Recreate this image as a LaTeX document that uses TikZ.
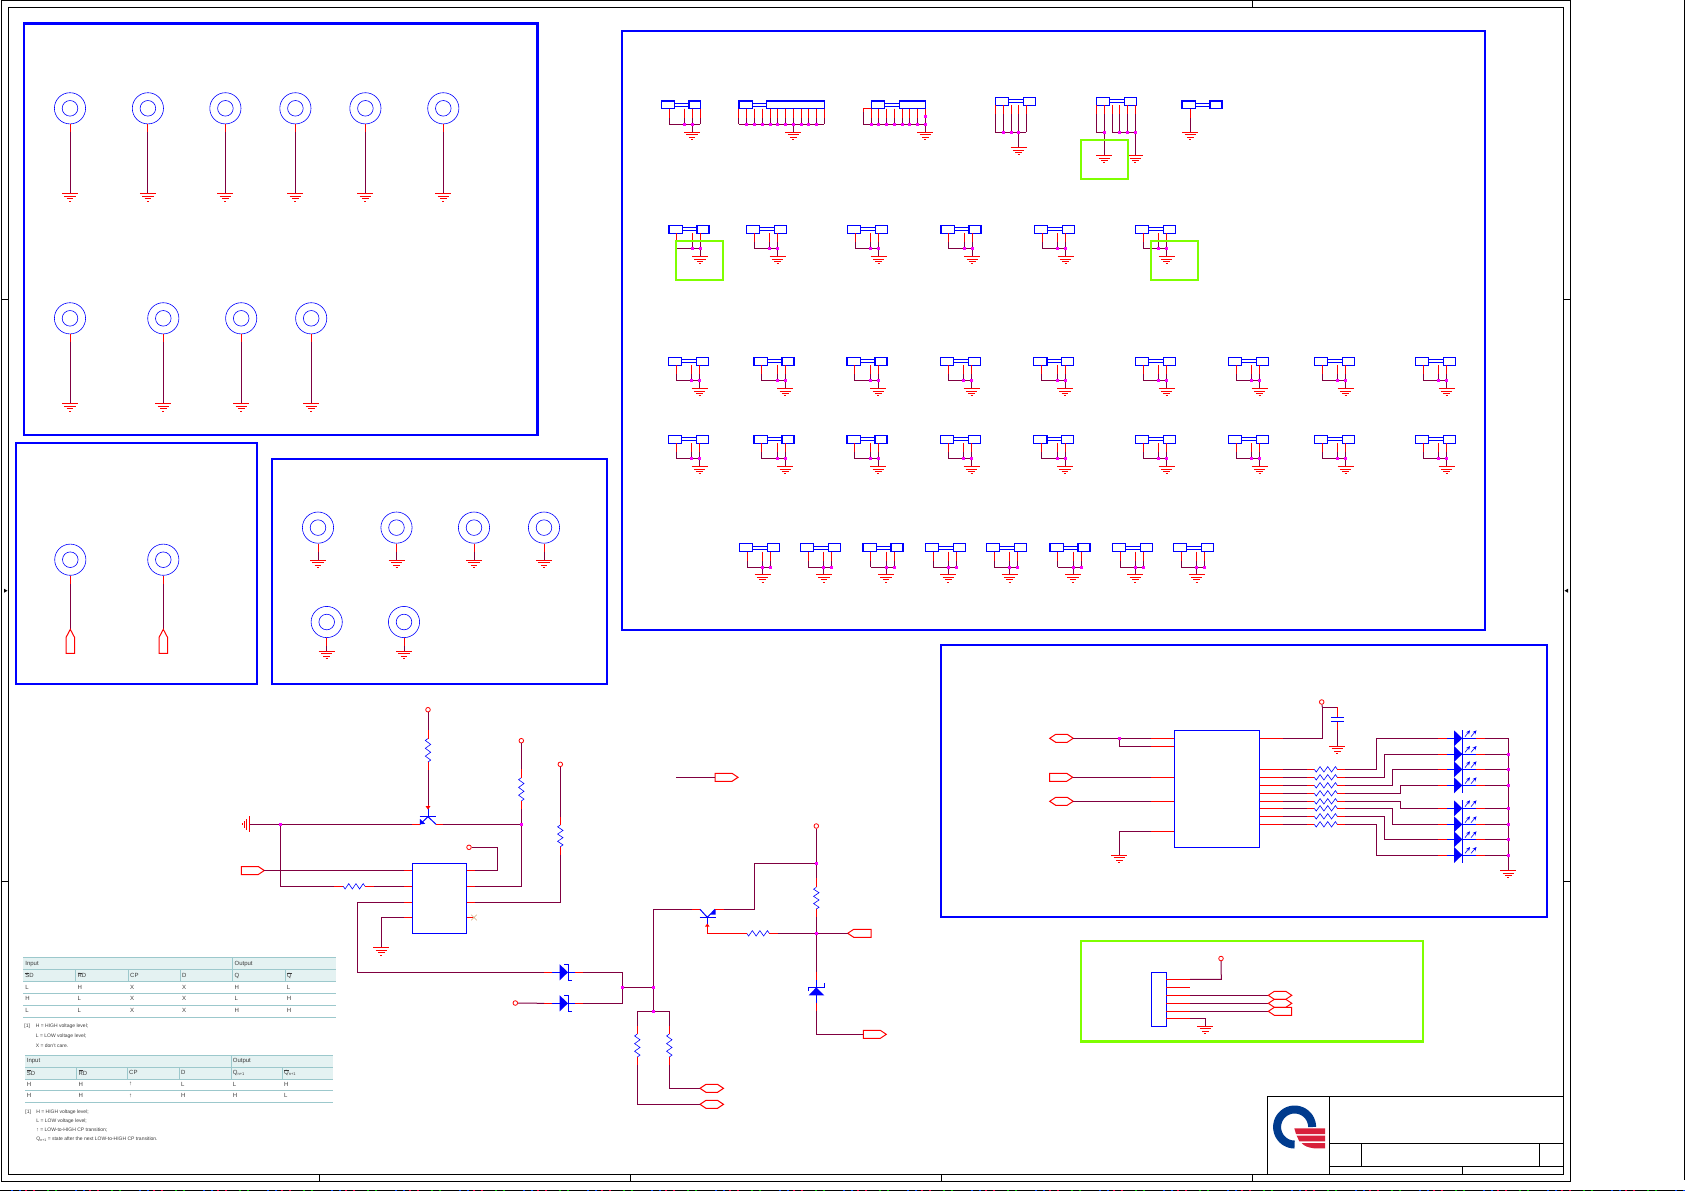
\documentclass[tikz,border=0pt]{standalone}
\usepackage{fontspec}
\setmainfont{Liberation Sans}
\usetikzlibrary{arrows.meta,calc}
\definecolor{wirec}{HTML}{800040}
\definecolor{dotc}{HTML}{FF00FF}
\definecolor{lime}{HTML}{7FFF00}
\definecolor{band}{HTML}{E4F2F2}
\definecolor{tline}{HTML}{9CC8CC}
\definecolor{ttext}{HTML}{3A3A3A}
\definecolor{logob}{HTML}{003B8E}
\definecolor{logor}{HTML}{D8203A}
\tikzset{
  wire/.style={draw=wirec,line width=.5pt},
  pin/.style={draw=red,line width=.5pt},
  bl/.style={draw=blue,line width=.5pt},
  blthin/.style={draw=blue,line width=.3pt},
  frame/.style={draw=black,line width=.5pt},
  bigbox/.style={draw=blue,line width=1.2pt},
  limebox/.style={draw=lime,line width=1.1pt},
  hole/.style={circle,draw=blue,line width=.3pt,inner sep=0pt},
  vccc/.style={circle,draw=red,line width=.4pt,fill=white,inner sep=0pt,minimum size=2.3pt},
  rectn/.style={rectangle,draw=blue,line width=.6pt,inner sep=0pt},
  ttx/.style={anchor=west,inner sep=0pt,text=ttext,font=\fontsize{3}{4}\selectfont},
  ntx/.style={anchor=west,inner sep=0pt,text=ttext,font=\fontsize{2.5}{3}\selectfont},
}
\newcounter{tcnt}
\newcommand{\ovl}[1]{\leavevmode\vbox{\hrule height .12pt \kern .2pt \hbox{#1}}}
\newcommand{\qsub}{Q\raisebox{-.5pt}{\fontsize{2}{2}\selectfont n+1}}
\newcommand{\tx}[3]{\stepcounter{tcnt}\node[ttx] (t\arabic{tcnt}) at (#1,#2) {#3};}
\newcommand{\nx}[3]{\stepcounter{tcnt}\node[ntx] (t\arabic{tcnt}) at (#1,#2) {#3};}
% ground on a named coordinate
\newcommand{\gnd}[1]{%
  \draw[pin] ([shift={(-8,0)}]#1) -- ([shift={(8,0)}]#1);
  \draw[pin] ([shift={(-5.7,2.7)}]#1) -- ([shift={(5.7,2.7)}]#1);
  \draw[pin] ([shift={(-3.3,5)}]#1) -- ([shift={(3.3,5)}]#1);
  \draw[pin] ([shift={(-1,7.3)}]#1) -- ([shift={(1,7.3)}]#1);}
\newcommand{\dotm}[2]{\fill[dotc] ({#1-1.5},{#2-1.5}) rectangle ({#1+1.5},{#2+1.5});}
% rectangle node: name x1 x2 y1 y2
\newcommand{\hbx}[5]{\node[rectn,minimum width={((#3)-(#2))*0.5},minimum height={((#5)-(#4))*0.5}] (#1) at ({((#2)+(#3))/2},{((#4)+(#5))/2}) {};}
% mounting hole: name x y ybottom
\newcommand{\mhole}[4]{%
  \node[hole,minimum size=15.6pt] (#1) at (#2,#3) {};
  \node[hole,minimum size=7.8pt] (#1i) at (#2,#3) {};
  \coordinate (#1g) at (#2,#4);
  \draw[wire] (#1.south) -- (#1g);
  \draw[pin] (#1.south) -- ++(0,8);}
\newcommand{\pinv}[3]{\draw[wire] ({#1},{#2}) -- ({#1},{#3}); \draw[pin] ({#1},{#2}) -- ({#1},{#2+9});}
% standard three pin unit: name x y ground-offset
\newcommand{\hdr}[4]{%
  \hbx{#1a}{#2}{#2+13.2}{#3}{#3+8}
  \hbx{#1b}{#2+28}{#2+40}{#3}{#3+8}
  \draw[bl] ([yshift=.7pt]#1a.east) -- ([yshift=.7pt]#1b.west);
  \draw[bl] ([yshift=-.7pt]#1a.east) -- ([yshift=-.7pt]#1b.west);
  \pinv{#2+7.8}{#3+8}{#3+23.6}
  \pinv{#2+23.2}{#3+8}{#3+23.6}
  \pinv{#2+31.2}{#3+8}{#3+23.6}
  \coordinate (#1g) at ({#2+#4},{#3+31});
  \draw[wire] ({#2+7.8},{#3+23.6}) -- ({#2+31.2},{#3+23.6});
  \draw[wire] ({#2+#4},{#3+23.6}) -- (#1g);
  \dotm{#2+23.2}{#3+23.6}\dotm{#2+31.2}{#3+23.6}
  \gnd{#1g}}
% zigzag resistors
\newcommand{\rv}[4]{%
  \coordinate (#1a) at (#2,#3); \coordinate (#1b) at (#2,{#3+#4});
  \draw[blthin] (#1a)
   -- ({#2-2.7},{#3+#4/12}) -- ({#2+2.7},{#3+#4*3/12}) -- ({#2-2.7},{#3+#4*5/12})
   -- ({#2+2.7},{#3+#4*7/12}) -- ({#2-2.7},{#3+#4*9/12}) -- ({#2+2.7},{#3+#4*11/12}) -- (#1b);}
\newcommand{\rh}[4]{%
  \coordinate (#1a) at (#2,#3); \coordinate (#1b) at ({#2+#4},#3);
  \draw[blthin] (#1a)
   -- ({#2+#4/12},{#3+2.7}) -- ({#2+#4*3/12},{#3-2.7}) -- ({#2+#4*5/12},{#3+2.7})
   -- ({#2+#4*7/12},{#3-2.7}) -- ({#2+#4*9/12},{#3+2.7}) -- ({#2+#4*11/12},{#3-2.7}) -- (#1b);}
% ports: name, left x, centre y; coordinates namew, namee
\newcommand{\pright}[3]{\coordinate (#1w) at (#2,#3); \coordinate (#1e) at ({#2+23},#3);
  \draw[pin,fill=white] (#1w) ++(0,-4) -- ++(17,0) -- (#1e) -- ({#2+17},{#3+4}) -- (#2,{#3+4}) -- cycle;}
\newcommand{\pleft}[3]{\coordinate (#1w) at (#2,#3); \coordinate (#1e) at ({#2+23.5},#3);
  \draw[pin,fill=white] (#1e) ++(0,-4) -- ++(-17.5,0) -- (#1w) -- ({#2+6},{#3+4}) -- ({#2+23.5},{#3+4}) -- cycle;}
\newcommand{\phex}[3]{\coordinate (#1w) at (#2,#3); \coordinate (#1e) at ({#2+23.5},#3);
  \draw[pin,fill=white] (#1w) -- ({#2+6},{#3-4}) -- ({#2+17.5},{#3-4}) -- (#1e) -- ({#2+17.5},{#3+4}) -- ({#2+6},{#3+4}) -- cycle;}
% zener lying horizontally: name, base x, y
\newcommand{\zen}[3]{%
  \coordinate (#1w) at ({#2-7.4},#3); \coordinate (#1e) at ({#2+15.6},#3);
  \fill[blue] (#2,{#3-8}) -- (#2,{#3+8}) -- ({#2+8.3},#3) -- cycle;
  \draw[bl] (#1w) -- (#1e);
  \draw[bl] ({#2+4.3},{#3-8}) -- ({#2+8.3},{#3-8}) -- ({#2+8.3},{#3+8}) -- ({#2+12},{#3+8});}
% LED: name, y
\newcommand{\led}[2]{%
  \coordinate (#1w) at (1446.7,#2); \coordinate (#1e) at (1485.3,#2);
  \fill[blue] (1454,{#2-8}) -- (1454,{#2+8}) -- (1462.3,#2) -- cycle;
  \draw[bl] (1446.7,#2) -- (1476,#2);
  \draw[bl] (1462.3,{#2-8}) -- (1462.3,{#2+8});
  \draw[pin] (1438.3,#2) -- (1446.7,#2);
  \draw[pin] (1476,#2) -- (1485.3,#2);
  \draw[wire] (1485.3,#2) -- (1508.3,#2);
  \draw[blthin,-{Stealth[length=2pt,width=1.8pt]}] (1465,{#2-1.7}) -- (1470,{#2-8});
  \draw[blthin,-{Stealth[length=2pt,width=1.8pt]}] (1471,{#2-1.7}) -- (1476.5,{#2-8});}
\begin{document}
\begin{tikzpicture}[x=0.5pt,y=-0.5pt]
\useasboundingbox (0,0) rectangle (1685,1191);
% ---------- sheet frame
\draw[frame] (1,.7) rectangle (1570.7,1181.3);
\draw[frame] (8.3,7.7) rectangle (1563.7,1174.3);
\draw[frame] (1684,0) -- (1684,1180);
\draw[frame] (1252.3,.7) -- (1252.3,7.7);
\foreach \yy in {299.3,881} {\draw[frame] (1,\yy) -- (8.3,\yy); \draw[frame] (1563.7,\yy) -- (1570.7,\yy);}
\foreach \xx in {319.3,630,941,1252.3} {\draw[frame] (\xx,1174.3) -- (\xx,1181.3);}
\fill (7.5,590.7) -- (4,588.7) -- (4,592.7) -- cycle;
\fill (1564.5,590.7) -- (1568,588.7) -- (1568,592.7) -- cycle;
\draw[black,line width=.5pt] (0,1190.3) -- (1685,1190.3);
\draw[blue!70!cyan,line width=.5pt,dash pattern=on .8pt off 3.2pt on .8pt off 27.2pt] (11,1190.3) -- (1685,1190.3);
\draw[red!70!magenta,line width=.5pt,dash pattern=on .8pt off 3.2pt on .8pt off 27.2pt] (25,1190.3) -- (1685,1190.3);
\draw[green!75!black,line width=.5pt,dash pattern=on .8pt off 3.2pt on .8pt off 27.2pt] (47,1190.3) -- (1685,1190.3);
% ---------- big frames
\draw[bigbox] (23.7,23.3) rectangle (537.3,434.7);
\draw[bigbox] (16,443) rectangle (257,684);
\draw[bigbox] (272,459) rectangle (607,684);
\draw[bigbox] (622,31) rectangle (1485,630);
\draw[bigbox] (941,645) rectangle (1547,917);
\draw[limebox] (1081,941) rectangle (1423,1041.5);
% ---------- mounting holes with ground
\foreach \n/\hx in {a/70,b/147.9,c/225.4,d/295.4,e/365.4,f/443.3} {\mhole{h\n}{\hx}{108.3}{193.7}\gnd{h\n g}}
\foreach \n/\hx in {g/70,h/163.3,i/241.2,j/311.2} {\mhole{h\n}{\hx}{318.3}{403.7}\gnd{h\n g}}
\foreach \n/\hx in {a/318,b/396.5,c/474,d/544} {\mhole{k\n}{\hx}{527.6}{560}\gnd{k\n g}}
\foreach \n/\hx in {e/326.7,f/404} {\mhole{k\n}{\hx}{622}{651}\gnd{k\n g}}
% holes with up-pointing ports
\foreach \n/\hx in {a/70.3,b/163.3} {
  \mhole{u\n}{\hx}{559.7}{629.3}
  \draw[pin,fill=white] (u\n g) -- ++(4.2,8) -- ++(0,16) -- ++(-8.4,0) -- ++(0,-16) -- cycle;}
% ---------- headers row 1
\hbx{p1a}{661.4}{674.6}{101}{108.7}\hbx{p1b}{688.9}{700.7}{101}{108.7}
\hbx{p2a}{738.9}{752.5}{101}{108.7}\hbx{p2b}{766.4}{824.6}{101}{108.7}
\hbx{p3a}{871.4}{884.6}{101}{108.7}\hbx{p3b}{899.3}{925.7}{101}{108.7}
\hbx{p4a}{995.4}{1008.6}{97.3}{105.3}\hbx{p4b}{1023.2}{1035.4}{97.3}{105.3}
\hbx{p5a}{1096.4}{1109.6}{97.3}{105.3}\hbx{p5b}{1124.3}{1136.4}{97.3}{105.3}
\hbx{p6a}{1182}{1195.7}{101}{108.7}\hbx{p6b}{1210}{1222}{101}{108.7}
\foreach \n in {1,2,3,4,5,6} {
  \draw[bl] ([yshift=.7pt]p\n a.east) -- ([yshift=.7pt]p\n b.west);
  \draw[bl] ([yshift=-.7pt]p\n a.east) -- ([yshift=-.7pt]p\n b.west);}
% unit 1
\foreach \xx in {669.3,684.3,692.1,700.4} {\pinv{\xx}{108.7}{124.3}}
\draw[wire] (669.3,124.3) -- (700.4,124.3);
\coordinate (p1g) at (692.1,132); \draw[wire] (692.1,124.3) -- (p1g); \gnd{p1g}
\dotm{684.3}{124.3}\dotm{692.1}{124.3}
% unit 2
\foreach \xx in {738.9,746.4,754.3,762.1,770.4,777.5,785.4,793.2,801.1,808.6,816.4,824.3} {\pinv{\xx}{108.7}{124.3}}
\draw[wire] (738.9,124.3) -- (824.3,124.3);
\coordinate (p2g) at (793.2,132); \draw[wire] (793.2,124.3) -- (p2g); \gnd{p2g}
\foreach \xx in {746.4,754.3,762.1,770.4,777.5,785.4,793.2,801.1,808.6,816.4} {\dotm{\xx}{124.3}}
% unit 3
\foreach \xx in {871.4,878.9,886.8,894.3,902.5,909.6,917.5,925.4} {\pinv{\xx}{108.7}{124.3}}
\draw[pin] (871.4,108.7) -- (863.2,108.7) -- (863.2,112);
\draw[wire] (863.2,112) -- (863.2,124.3) -- (925.4,124.3);
\coordinate (p3g) at (925.4,132); \draw[wire] (925.4,124.3) -- (p3g); \gnd{p3g}
\foreach \xx in {871.4,878.9,886.8,894.3,902.5,909.6,917.5,925.4} {\dotm{\xx}{124.3}}
\dotm{925.4}{116.3}
% unit 4
\foreach \xx in {995.4,1003.2,1011,1018.6,1026.4} {\pinv{\xx}{105.3}{132.3}}
\draw[wire] (995.4,132.3) -- (1026.4,132.3);
\coordinate (p4g) at (1018.6,147.3); \draw[wire] (1018.6,132.3) -- (p4g); \gnd{p4g}
\foreach \xx in {1003.2,1011,1018.6} {\dotm{\xx}{132.3}}
% unit 5
\foreach \xx in {1096.4,1104.3,1112.1,1119.6,1127.5,1135.4} {\pinv{\xx}{105.3}{132.3}}
\draw[wire] (1096.4,132.3) -- (1104.3,132.3);
\draw[wire] (1112.1,132.3) -- (1135.4,132.3);
\coordinate (p5g) at (1104.3,155.3); \draw[wire] (1104.3,132.3) -- (p5g); \gnd{p5g}
\coordinate (p5h) at (1135.4,155.3); \draw[wire] (1135.4,132.3) -- (p5h); \gnd{p5h}
\foreach \xx in {1104.3,1119.6,1127.5,1135.4} {\dotm{\xx}{132.3}}
\draw[limebox] (1081,139.7) rectangle (1127.9,178.7);
% unit 6
\pinv{1190.4}{108.7}{132}
\coordinate (p6g) at (1190.4,132); \gnd{p6g}
% ---------- headers rows 2-5
\foreach \n/\hx in {a/668.9,b/746.4,c/847.5,d/941,e/1034.3,f/1135.4} {\hdr{r\n}{\hx}{225.3}{31.2}}
\draw[limebox] (675.7,240.7) rectangle (723.2,280);
\draw[limebox] (1150.7,240.7) rectangle (1198.2,280);
\foreach \n/\hx in {a/668.4,b/754,c/847,d/940.3,e/1033.8,f/1135.3,g/1228.3,h/1314.3,i/1415.3} {\hdr{s\n}{\hx}{357.3}{31.2}\hdr{t\n}{\hx}{435.3}{31.2}}
\foreach \n/\hx in {a/739.3,b/800.6,c/862.9,d/925.2,e/986.5,f/1049.9,g/1112.2,h/1173.5} {\hdr{w\n}{\hx}{543.8}{23.2}}
% ---------- flip-flop section
\hbx{ff}{412.3}{466.7}{863.3}{933.3}
\node[vccc] (v1) at (428,709.7) {};
\node[vccc] (v2) at (521.3,740.7) {};
\node[vccc] (v3) at (560.3,764.3) {};
\node[vccc] (v4) at (469,847.3) {};
\rv{r1}{428}{738.5}{23.5}
\rv{r2}{521.3}{777.7}{23.3}
\rv{r3}{560.3}{825}{21.7}
\rh{r4}{343.3}{886.3}{21.7}
\coordinate (q1top) at (428,805);
\draw[wire] (v1) -- (428,730); \draw[pin] (428,730) -- (r1a); \draw[pin] (r1b) -- (428,770); \draw[wire] (428,770) -- (q1top);
\fill[red] (425.5,806) -- (430.5,806) -- (428,809.5) -- cycle;
\draw[pin] (q1top) -- (428,809);
\draw[bl] (428,809) -- (428,816.7);
\draw[bl] (419.7,816.7) -- (436,816.7);
\draw[bl] (420,824.3) -- (428,816.7) -- (436,824.3);
\fill[blue] (419.8,824.3) -- (420,819) -- (425.2,823.8) -- cycle;
\coordinate (j1) at (280.3,824.3);
\coordinate (j2) at (521.3,824.3);
\draw[wire] (249.7,824.3) -- (412,824.3);
\draw[pin] (412,824.3) -- (420,824.3);
\draw[pin] (436,824.3) -- (443,824.3);
\draw[wire] (443,824.3) -- (j2);
\draw[pin] (249.7,816.3) -- (249.7,832.3);
\draw[pin] (246.7,819) -- (246.7,829.6);
\draw[pin] (244.3,821) -- (244.3,827.6);
\draw[pin] (242.3,823.3) -- (242.3,825.3);
\draw[wire] (j1) -- (280.3,886.3) -- (334.3,886.3);
\draw[pin] (334.3,886.3) -- (r4a); \draw[pin] (r4b) -- (374,886.3);
\draw[wire] (374,886.3) -- (404,886.3); \draw[pin] (404,886.3) -- (412.3,886.3);
\pright{pa}{241.3}{870.5}
\draw[wire] (pae) -- (404,870.5); \draw[pin] (404,870.5) -- (412.3,870.5);
\draw[pin] (404,902.3) -- (412.3,902.3);
\draw[wire] (404,902.3) -- (357.3,902.3) -- (357.3,972.3) -- (544.3,972.3);
\draw[pin] (404,917.3) -- (412.3,917.3);
\coordinate (g1) at (381.3,947.7);
\draw[wire] (404,917.3) -- (381.3,917.3) -- (g1); \gnd{g1}
\draw[pin] (466.7,870.3) -- (475,870.3);
\draw[wire] (475,870.3) -- (497.3,870.3) -- (497.3,847.3) -- (v4);
\draw[pin] (466.7,886.3) -- (475,886.3);
\draw[wire] (475,886.3) -- (521.3,886.3) -- (j2);
\draw[wire] (j2) -- (521.3,809); \draw[pin] (521.3,809) -- (r2b); \draw[pin] (r2a) -- (521.3,769); \draw[wire] (521.3,769) -- (v2);
\draw[pin] (466.7,902.3) -- (475,902.3);
\draw[wire] (475,902.3) -- (560.3,902.3) -- (560.3,855);
\draw[pin] (560.3,855) -- (r3b); \draw[pin] (r3a) -- (560.3,816.7); \draw[wire] (560.3,816.7) -- (v3);
\draw[pin] (466.7,917.5) -- (473,917.5);
\draw[brown!70!white,line width=.3pt] (471.2,914.7) -- (476.8,920.3) (471.2,920.3) -- (476.8,914.7);
\dotm{280.3}{824.3}\dotm{521.3}{824.3}
% port with stub to the right
\coordinate (m1) at (676,777.3);
\pright{pb}{715}{777.3}
\draw[wire] (m1) -- (pbw);
% ---------- diode / second transistor section
\node[vccc] (v5) at (515.3,1003) {};
\node[vccc] (v6) at (816.3,826) {};
\zen{d1}{559.7}{972.3}
\zen{d2}{559.7}{1003.3}
\draw[pin] (544.3,972.3) -- (d1w); \draw[pin] (d1e) -- (583.3,972.3);
\draw[wire] (v5) -- (544.3,1003.3); \draw[pin] (544.3,1003.3) -- (d2w); \draw[pin] (d2e) -- (583.3,1003.3);
\draw[wire] (583.3,972.3) -- (622.3,972.3) -- (622.3,1003.3) -- (583.3,1003.3);
\coordinate (j3) at (622.3,987.3); \coordinate (j4) at (653.3,987.3); \coordinate (j5) at (653.3,1011.3);
\draw[wire] (j3) -- (j4);
\draw[wire] (653.3,909.3) -- (j5);
\draw[wire] (653.3,909.3) -- (691.7,909.3);
\draw[pin] (691.7,909.3) -- (700,909.3);
\draw[bl] (700,909.3) -- (707.3,917.3) -- (715,909.3);
\draw[bl] (699.5,917.3) -- (716,917.3);
\fill[blue] (715.5,909) -- (715.5,914.5) -- (710,914.5) -- cycle;
\draw[pin] (715,909.3) -- (724,909.3);
\coordinate (j6) at (816.3,863);
\draw[wire] (724,909.3) -- (754.7,909.3) -- (754.7,863) -- (j6);
\draw[bl] (707.3,917.3) -- (707.3,925);
\fill[red] (705,926.5) -- (709.5,926.5) -- (707.3,923.5) -- cycle;
\coordinate (j7) at (816.3,933.3);
\rh{r5}{746.7}{933.3}{22.6}
\draw[pin] (707.3,926) -- (707.3,933.3) -- (738.3,933.3);
\draw[pin] (738.3,933.3) -- (r5a); \draw[pin] (r5b) -- (777.7,933.3);
\draw[wire] (777.7,933.3) -- (j7);
\rv{r6}{816.3}{887.3}{21.7}
\draw[wire] (v6) -- (816.3,878.3); \draw[pin] (816.3,878.3) -- (r6a); \draw[pin] (r6b) -- (816.3,917.3); \draw[wire] (816.3,917.3) -- (j7);
\pleft{pc}{847.7}{933.3}
\draw[wire] (j7) -- (pcw);
\draw[wire] (j7) -- (816.3,971.7);
\draw[pin] (816.3,971.7) -- (816.3,980);
\draw[bl] (816.3,980) -- (816.3,1002.7);
\fill[blue] (808.7,995.3) -- (824.3,995.3) -- (816.3,987.3) -- cycle;
\draw[bl] (808.7,991) -- (808.7,987.3) -- (824.3,987.3) -- (824.3,983.3);
\draw[pin] (816.3,1002.7) -- (816.3,1011);
\pright{pd}{863.3}{1034.3}
\draw[wire] (816.3,1011) -- (816.3,1034.3) -- (pdw);
\draw[wire] (637.3,1011.3) -- (669.3,1011.3);
\rv{r7}{637.3}{1034}{23}
\rv{r8}{669.3}{1034}{23}
\draw[wire] (637.3,1011.3) -- (637.3,1026); \draw[pin] (637.3,1026) -- (r7a); \draw[pin] (r7b) -- (637.3,1065);
\draw[wire] (669.3,1011.3) -- (669.3,1026); \draw[pin] (669.3,1026) -- (r8a); \draw[pin] (r8b) -- (669.3,1065);
\phex{pe}{700}{1088.3}
\phex{pf}{700}{1104.3}
\draw[wire] (669.3,1065) -- (669.3,1088.3) -- (pew);
\draw[wire] (637.3,1065) -- (637.3,1104.3) -- (pfw);
\foreach \px/\py in {622.3/987.3,653.3/987.3,653.3/1011,816.3/863,816.3/933.3} {\dotm{\px}{\py}}
% ---------- LED section
\hbx{ic}{1174.3}{1259.7}{730.3}{847.3}
\phex{lp1}{1049.7}{738.3}
\pright{lp2}{1049.7}{777.3}
\phex{lp3}{1049.7}{801.3}
\draw[wire] (lp1e) -- (1151,738.3); \draw[pin] (1151,738.3) -- (1174.3,738.3);
\draw[wire] (1119.3,738.3) -- (1119.3,746.3) -- (1151,746.3); \draw[pin] (1151,746.3) -- (1174.3,746.3);
\draw[wire] (lp2e) -- (1151,777.3); \draw[pin] (1151,777.3) -- (1174.3,777.3);
\draw[wire] (lp3e) -- (1151,801.3); \draw[pin] (1151,801.3) -- (1174.3,801.3);
\coordinate (lg1) at (1119.3,855);
\draw[pin] (1151,831.3) -- (1174.3,831.3);
\draw[wire] (1151,831.3) -- (1119.3,831.3) -- (lg1); \gnd{lg1}
\dotm{1119.3}{738.3}
\node[vccc] (v7) at (1321.7,702) {};
\coordinate (cp) at (1337.3,707.3);
\draw[pin] (1259.7,738.3) -- (1283.3,738.3);
\draw[wire] (1283.3,738.3) -- (1322.3,738.3) -- (1322.3,707.3) -- (cp);
\draw[wire] (v7) -- (1322.3,707.3);
\draw[pin] (1337.3,707.3) -- (1337.3,717.7);
\draw[bl] (1331,717.7) -- (1343.7,717.7);
\draw[bl] (1331,721.7) -- (1343.7,721.7);
\draw[pin] (1337.3,721.7) -- (1337.3,730);
\coordinate (cg) at (1337.3,746);
\draw[wire] (1337.3,730) -- (cg); \gnd{cg}
\foreach \n/\yy/\ly/\tx in {a/769.3/738.3/1376.3,b/777.3/754/1384.3,c/785.3/769.3/1392.3,d/793.3/785.3/1400.3,e/801.3/808.3/1400.3,f/808.3/824.3/1392.3,g/816.3/839.3/1384.3,h/824.3/855/1376.3} {
  \rh{ra\n}{1314.3}{\yy}{23}
  \led{l\n}{\ly}
  \draw[pin] (1259.7,\yy) -- (1283.3,\yy);
  \draw[wire] (1283.3,\yy) -- (1306.7,\yy);
  \draw[pin] (1306.7,\yy) -- (ra\n a);
  \draw[pin] (ra\n b) -- (1345.3,\yy);
  \draw[wire] (1345.3,\yy) -- (\tx,\yy) -- (\tx,\ly) -- (1438.3,\ly);
}
\coordinate (lg2) at (1508.3,870.3);
\draw[wire] (1508.3,738.3) -- (lg2); \gnd{lg2}
\foreach \yy in {754,769.3,785.3,808.3,824.3,839.3,855} {\dotm{1508.3}{\yy}}
% ---------- connector in green box
\hbx{cn}{1151.3}{1166.3}{972.3}{1026.3}
\node[vccc] (v8) at (1221,958.5) {};
\foreach \yy in {979.3,987.3,995.3,1003.3,1011.3,1018.3} {\draw[pin] (1166.3,\yy) -- (1190,\yy);}
\draw[wire] (1190,979.3) -- (1221.3,979.3) -- (v8);
\coordinate (cng) at (1205.3,1026);
\draw[wire] (1190,1018.3) -- (1205.3,1018.3) -- (cng); \gnd{cng}
\draw[wire] (1190,995.3) -- (1268.3,995.3);
\draw[wire] (1190,1003.3) -- (1268.3,1003.3);
\draw[wire] (1190,1011.3) -- (1268.3,1011.3);
\phex{c1}{1268.3}{995.3}
\phex{c2}{1268.3}{1003.3}
\draw[pin,fill=white] (1268.3,1011.3) -- (1274.3,1007.3) -- (1291.6,1007.3) -- (1291.6,1015.3) -- (1274.3,1015.3) -- cycle;
% ---------- truth tables
\fill[band] (23.3,957.3) rectangle (336,981.7);
\foreach \yy in {957.3,969.3,981.7,993.3,1005.3,1017.3} {\draw[tline,line width=.4pt] (23.3,\yy) -- (336,\yy);}
\foreach \xx in {75.7,128.3,180.3,232.7,285} {\draw[tline,line width=.3pt] (\xx,969.3) -- (\xx,981.7);}
\draw[tline,line width=.3pt] (232.7,957.3) -- (232.7,969.3);
\tx{25}{963.7}{Input}\tx{234.2}{963.7}{Output}
\tx{25}{975.5}{\ovl{S}D}\tx{77.2}{975.5}{\ovl{R}D}\tx{129.8}{975.5}{CP}\tx{181.8}{975.5}{D}\tx{234.2}{975.5}{Q}\tx{286.5}{975.5}{\ovl{Q}}
\tx{25}{987.3}{L}\tx{77.2}{987.3}{H}\tx{129.8}{987.3}{X}\tx{181.8}{987.3}{X}\tx{234.2}{987.3}{H}\tx{286.5}{987.3}{L}
\tx{25}{998.9}{H}\tx{77.2}{998.9}{L}\tx{129.8}{998.9}{X}\tx{181.8}{998.9}{X}\tx{234.2}{998.9}{L}\tx{286.5}{998.9}{H}
\tx{25}{1010.7}{L}\tx{77.2}{1010.7}{L}\tx{129.8}{1010.7}{X}\tx{181.8}{1010.7}{X}\tx{234.2}{1010.7}{H}\tx{286.5}{1010.7}{H}
\nx{24}{1025.7}{[1]}\nx{35.5}{1025.7}{H = HIGH voltage level;}\nx{35.5}{1035.7}{L = LOW voltage level;}\nx{35.5}{1045.7}{X = don't care.}
\fill[band] (25,1055.3) rectangle (333.3,1079.3);
\foreach \yy in {1055.3,1067.3,1079.3,1090.7,1102.7} {\draw[tline,line width=.4pt] (25,\yy) -- (333.3,\yy);}
\foreach \xx in {76.7,127.3,179.3,231,282.3} {\draw[tline,line width=.3pt] (\xx,1067.3) -- (\xx,1079.3);}
\draw[tline,line width=.3pt] (231,1055.3) -- (231,1067.3);
\tx{26.5}{1061}{Input}\tx{232.5}{1061}{Output}
\tx{26.5}{1072.8}{\ovl{S}D}\tx{78.2}{1072.8}{\ovl{R}D}\tx{128.8}{1072.8}{CP}\tx{180.8}{1072.8}{D}\tx{232.5}{1072.8}{\qsub}\tx{283.8}{1072.8}{\ovl{Q}\raisebox{-.5pt}{\fontsize{2}{2}\selectfont n+1}}
\tx{26.5}{1084}{H}\tx{78.2}{1084}{H}\tx{128.8}{1084}{↑}\tx{180.8}{1084}{L}\tx{232.5}{1084}{L}\tx{283.8}{1084}{H}
\tx{26.5}{1095.8}{H}\tx{78.2}{1095.8}{H}\tx{128.8}{1095.8}{↑}\tx{180.8}{1095.8}{H}\tx{232.5}{1095.8}{H}\tx{283.8}{1095.8}{L}
\nx{25}{1112}{[1]}\nx{36}{1112}{H = HIGH voltage level;}\nx{36}{1121}{L = LOW voltage level;}\nx{36}{1130}{↑ = LOW-to-HIGH CP transition;}\nx{36}{1139.3}{Q\raisebox{-.4pt}{\fontsize{1.8}{2}\selectfont n+1} = state after the next LOW-to-HIGH CP transition.}
% ---------- title block
\draw[frame] (1267.3,1096.3) rectangle (1563.7,1174.3);
\draw[frame] (1329.3,1096.3) -- (1329.3,1174.3);
\draw[frame] (1329.3,1143.3) -- (1563.7,1143.3);
\draw[frame] (1329.3,1166.3) -- (1563.7,1166.3);
\draw[frame] (1361.3,1143.3) -- (1361.3,1166.3);
\draw[frame] (1539.3,1143.3) -- (1539.3,1166.3);
\draw[frame] (1462.3,1166.3) -- (1462.3,1174.3);
\draw[logob,line width=4pt] plot[domain=0:270,samples=60] ({1294.6+17.5*cos(\x)},{1127-17.5*sin(\x)});
\fill[logor] (1294.3,1128.3) -- (1325,1128.3) -- (1325,1134) -- (1296,1134) -- cycle;
\fill[logor] (1296.7,1135.7) -- (1325,1135.7) -- (1325,1141.3) -- (1299.3,1141.3) -- cycle;
\fill[logor] (1301.7,1143) -- (1325,1143) -- (1325,1148.3) -- (1314,1148.3) .. controls (1308,1147.5) and (1304,1146) .. (1301.7,1143) -- cycle;
\end{tikzpicture}
\end{document}
